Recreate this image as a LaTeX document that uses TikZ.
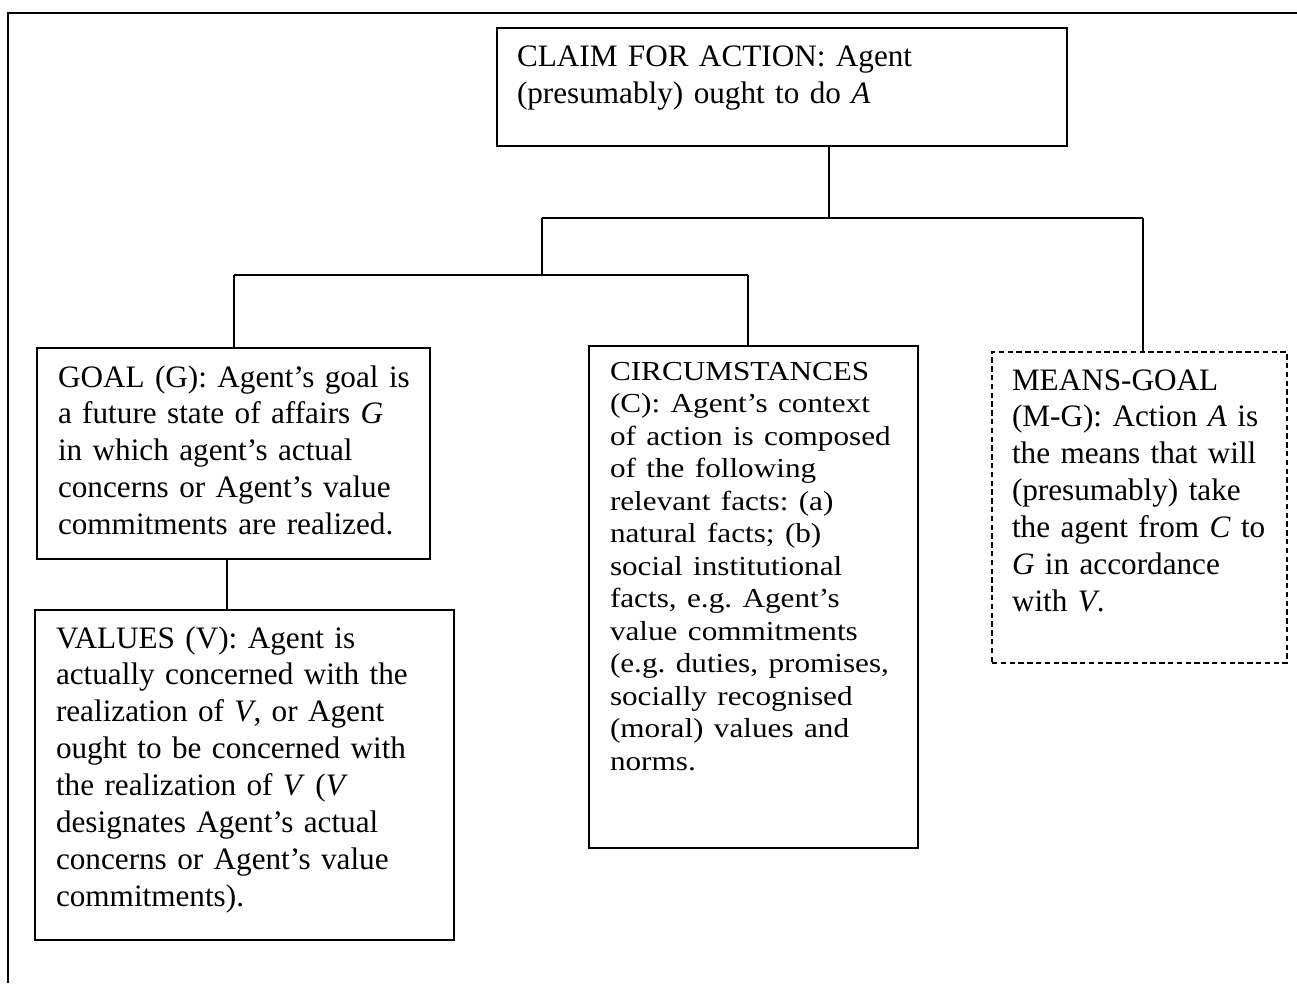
\documentclass[tikz,border=0pt]{standalone}
\usepackage{fontspec}
\setmainfont{Liberation Serif}
\frenchspacing
\begin{document}
\begin{tikzpicture}[x=0.75pt,y=-0.75pt,
  frame/.style={line width=1.2pt,black},
  box/.style={draw=black,line width=0.9pt,rectangle,inner sep=0pt,outer sep=0pt},
  dbox/.style={box,dash pattern=on 4pt off 2.6pt},
  link/.style={draw=black,line width=0.9pt},
  txt/.style={inner sep=0pt,outer sep=0pt,anchor=base west,text width=420pt,align=left,
    font=\fontsize{23.4pt}{27.7pt}\selectfont\frenchspacing}]
\useasboundingbox (0,0) rectangle (1297,983);
% frame
\draw[frame] (8,983) -- (8,12.7) -- (1297,12.7);
% boxes
\node[box,minimum width=427.5pt,minimum height=88.5pt] (claim) at (782,87) {};
\node[box,minimum width=294.75pt,minimum height=158.25pt] (goal) at (233.5,453.5) {};
\node[box,minimum width=314.25pt,minimum height=247.5pt] (values) at (244.5,775) {};
\node[box,minimum width=246.75pt,minimum height=376.5pt] (circ) at (753.5,597) {};
\node[dbox,minimum width=221.25pt,minimum height=233.25pt] (means) at (1139.5,507.5) {};
% texts
\node[txt] (claimT) at (517,66.7) {CLAIM FOR ACTION: Agent\\(presumably) ought to do \textit{A}};
\node[txt] (goalT) at (58,387) {GOAL (G): Agent’s goal is\\a future state of affairs \textit{G}\\in which agent’s actual\\concerns or Agent’s value\\commitments are realized.};
\node[txt] (valuesT) at (56,648) {VALUES (V): Agent is\\actually concerned with the\\realization of \textit{V}, or Agent\\ought to be concerned with\\the realization of \textit{V} (\textit{V}\\designates Agent’s actual\\concerns or Agent’s value\\commitments).};
\begin{scope}[shift={(610,380)},yscale=0.88,transform shape]
\node[txt] (circT) at (0,0) {CIRCUMSTANCES\\(C): Agent’s context\\of action is composed\\of the following\\relevant facts: (a)\\natural facts; (b)\\social institutional\\facts, e.g. Agent’s\\value commitments\\(e.g. duties, promises,\\socially recognised\\(moral) values and\\norms.};
\end{scope}
\node[txt] (meansT) at (1012,390) {MEANS-GOAL\\(M-G): Action \textit{A} is\\the means that will\\(presumably) take\\the agent from \textit{C} to\\\textit{G} in accordance\\with \textit{V}.};
% junctions
\coordinate (j1) at (829,218);
\coordinate (jl) at (542,218);
\coordinate (jr) at (1143,218);
\coordinate (j2) at (542,275);
\coordinate (jg) at (234,275);
\coordinate (jc) at (748,275);
\coordinate (jv) at (227,560);
% connectors
\draw[link] (claim.south -| j1) -- (j1);
\draw[link] (jl) -- (jr);
\draw[link] (jl) -- (j2);
\draw[link] (jg) -- (jc);
\draw[link] (jg) -- (jg |- goal.north);
\draw[link] (jc) -- (jc |- circ.north);
\draw[link] (jr) -- (jr |- means.north);
\draw[link] (goal.south -| jv) -- (values.north -| jv);
\end{tikzpicture}
\end{document}
